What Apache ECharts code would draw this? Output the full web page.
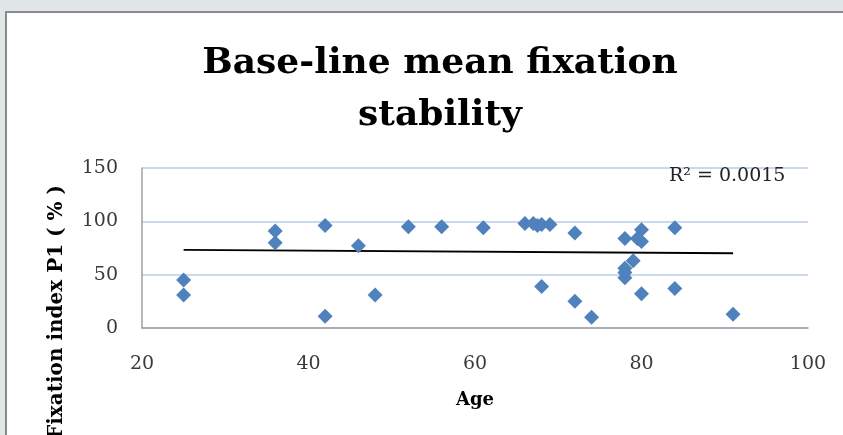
<!DOCTYPE html>
<html>
<head>
<meta charset="utf-8">
<script src="https://cdn.jsdelivr.net/npm/echarts@6/dist/echarts.min.js"></script>
<style>
  html, body { margin: 0; padding: 0; background: #e1e6e8; }
  #chart { width: 843px; height: 435px; }
</style>
</head>
<body>
<div id="chart"></div>
<script>
// age vs fixation index P1 (%)
var ages = [25, 25, 36, 36, 42, 42, 46, 48, 52, 56, 61, 66, 67, 67.5, 68, 69,
            68, 72, 72, 74, 78, 79.5, 80, 80, 79, 78, 78, 78, 80, 84, 84, 91];
var fixation = [45, 31, 91, 80, 96, 11, 77, 31, 95, 95, 94, 98, 98, 96, 97, 97,
                39, 89, 25, 10, 84, 84, 92, 81, 63, 56, 47, 52, 32, 94, 37, 13];
// linear trendline ends
var trendX = [25, 91];
var trendY = [73.2, 70.1];

var points = ages.map(function (a, i) { return [a, fixation[i]]; });
var trend = trendX.map(function (x, i) { return [x, trendY[i]]; });

var serif = '"DejaVu Serif", "Liberation Serif", serif';

var chart = echarts.init(document.getElementById('chart'));
chart.setOption({
  animation: false,
  graphic: [{
    type: 'rect',
    z: -10,
    shape: { x: 6, y: 12, width: 860, height: 440 },
    style: { fill: '#ffffff', stroke: '#8a8a8a', lineWidth: 2 }
  }, {
    // y axis title, placed like the original (runs off the bottom)
    type: 'text',
    x: 57,
    y: 312,
    rotation: Math.PI / 2,
    style: {
      text: 'Fixation index P1 ( % )',
      font: 'bold 20px ' + serif,
      fill: '#000',
      textAlign: 'center',
      textVerticalAlign: 'middle'
    }
  }],
  title: {
    text: 'Base-line mean fixation\nstability',
    left: 435,
    top: 33,
    textAlign: 'center',
    textStyle: {
      fontFamily: serif,
      fontWeight: 'bold',
      fontSize: 36,
      lineHeight: 52,
      color: '#000'
    }
  },
  grid: { left: 142, right: 35, top: 168, bottom: 107 },
  xAxis: {
    type: 'value',
    min: 20,
    max: 100,
    interval: 20,
    name: 'Age',
    nameLocation: 'middle',
    nameGap: 63,
    nameTextStyle: { fontFamily: serif, fontWeight: 'bold', fontSize: 18, color: '#000' },
    axisLine: { show: true, lineStyle: { color: '#a0a0a0', width: 1.5 } },
    axisTick: { show: false },
    splitLine: { show: false },
    axisLabel: { fontFamily: serif, fontSize: 19, color: '#3a3a3a', margin: 27 }
  },
  yAxis: {
    type: 'value',
    min: 0,
    max: 150,
    interval: 50,
    axisLine: { show: true, lineStyle: { color: '#a0a0a0', width: 1.5 } },
    axisTick: { show: false },
    splitLine: { show: true, lineStyle: { color: '#b8cce4', width: 1.5 } },
    axisLabel: { fontFamily: serif, fontSize: 19, color: '#3a3a3a', margin: 24 }
  },
  series: [{
    name: 'P1',
    type: 'scatter',
    symbol: 'diamond',
    symbolSize: 15,
    itemStyle: { color: '#4f81bd', opacity: 1 },
    data: points,
    z: 3
  }, {
    name: 'Trend',
    type: 'line',
    data: trend,
    symbol: 'none',
    lineStyle: { color: '#000', width: 1.8 },
    z: 2,
    markPoint: {
      symbol: 'rect',
      symbolSize: 1,
      itemStyle: { color: 'transparent' },
      label: {
        show: true,
        formatter: 'R² = 0.0015',
        fontFamily: serif,
        fontSize: 19,
        color: '#222'
      },
      data: [{ coord: [90.3, 142] }]
    }
  }]
});
</script>
</body>
</html>
